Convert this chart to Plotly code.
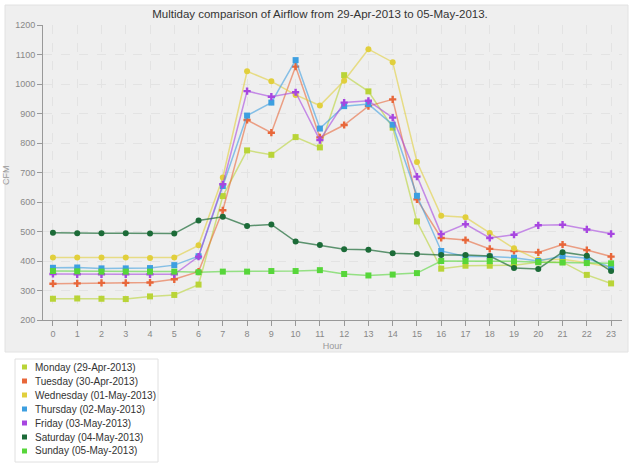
import plotly.graph_objects as go

hours = list(range(24))

monday = [272, 273, 272, 271, 280, 285, 320, 620, 775, 760, 820, 785, 1030, 975, 852, 534, 374, 384, 384, 386, 396, 396, 353, 324]
tuesday = [323, 324, 326, 326, 327, 338, 364, 572, 878, 835, 1059, 819, 861, 925, 948, 609, 478, 471, 441, 434, 429, 456, 437, 415]
wednesday = [412, 412, 412, 412, 410, 412, 453, 683, 1043, 1009, 963, 927, 1011, 1118, 1074, 736, 553, 548, 495, 443, 404, 406, 394, 378]
thursday = [377, 378, 375, 375, 376, 386, 416, 654, 893, 937, 1081, 849, 925, 932, 862, 621, 434, 415, 415, 411, 400, 417, 409, 378]
friday = [356, 355, 355, 355, 355, 355, 415, 660, 976, 957, 972, 810, 937, 943, 886, 686, 491, 525, 478, 489, 521, 523, 507, 492]
saturday = [496, 494, 494, 494, 493, 493, 537, 550, 519, 524, 466, 454, 440, 438, 426, 424, 420, 420, 417, 376, 373, 430, 418, 366]
sunday = [366, 365, 364, 364, 364, 364, 362, 364, 364, 366, 366, 369, 356, 351, 354, 359, 400, 400, 400, 399, 396, 395, 393, 392]

names = ["Monday (29-Apr-2013)", "Tuesday (30-Apr-2013)", "Wednesday (01-May-2013)",
         "Thursday (02-May-2013)", "Friday (03-May-2013)", "Saturday (04-May-2013)",
         "Sunday (05-May-2013)"]
series = [monday, tuesday, wednesday, thursday, friday, saturday, sunday]
colors = ["#b9d437", "#e8673a", "#e1cf3c", "#3d9fe0", "#a746e0", "#1c6b38", "#57d63a"]
line_colors = ["rgba(185,212,55,0.6)", "rgba(232,103,58,0.6)", "rgba(225,207,60,0.6)",
               "rgba(61,159,224,0.6)", "rgba(167,70,224,0.6)", "rgba(28,107,56,0.7)",
               "rgba(87,214,58,0.6)"]
symbols = ["square", "cross", "circle", "square", "cross", "circle", "square"]
sizes = [6, 6, 6, 6, 6, 6, 6]

fig = go.Figure()
for name, ys, c, lc, sym, sz in zip(names, series, colors, line_colors, symbols, sizes):
    fig.add_trace(go.Scatter(x=hours, y=ys, mode="lines+markers", name=name,
                             line=dict(color=lc, width=1.5),
                             marker=dict(color=c, symbol=sym, size=sz),
                             showlegend=False))

L, T, W, H = 43, 25, 579, 295
def px(x):
    return (x - L) / W
def py(y):
    return (T + H - y) / H

shapes = [dict(type="rect", xref="paper", yref="paper", layer="below",
               x0=px(5), x1=px(628), y0=py(352), y1=py(5),
               fillcolor="#efefef", line=dict(color="#e2e2e2", width=1)),
          dict(type="rect", xref="paper", yref="paper", layer="below",
               x0=px(15), x1=px(158), y0=py(462), y1=py(359),
               fillcolor="white", line=dict(color="#e0e0e0", width=1))]
annotations = [dict(text="CFM", xref="paper", yref="paper", x=px(6), y=py(175),
                    textangle=-90, showarrow=False, xanchor="center", yanchor="middle",
                    font=dict(size=9, color="#999999"))]
for i, (name, c) in enumerate(zip(names, colors)):
    yc = 367 + 14 * i
    shapes.append(dict(type="rect", xref="paper", yref="paper",
                       x0=px(22), x1=px(27), y0=py(yc + 2.5), y1=py(yc - 2.5),
                       fillcolor=c, line=dict(width=0)))
    annotations.append(dict(text=name, xref="paper", yref="paper", x=px(33), y=py(yc),
                            xanchor="left", yanchor="middle", showarrow=False,
                            font=dict(size=10, color="#333333")))

fig.update_layout(
    width=631, height=463,
    margin=dict(l=L, r=631 - L - W, t=T, b=463 - T - H, autoexpand=False),
    paper_bgcolor="white",
    plot_bgcolor="#f9f9f9",
    showlegend=False,
    font=dict(family="Liberation Sans", size=9, color="#888888"),
    title=dict(text="Multiday comparison of Airflow from 29-Apr-2013 to 05-May-2013.",
               xref="container", x=320 / 631, xanchor="center", y=1 - 14 / 463, yanchor="middle",
               font=dict(size=11.5, color="#333333")),
    xaxis=dict(range=[-0.41, 23.45], tickmode="array", tickvals=hours,
               ticktext=[str(h) for h in hours],
               showgrid=True, gridcolor="#e3e3e3", griddash="dash", gridwidth=1,
               showline=True, linecolor="#999999", linewidth=1,
               ticks="outside", ticklen=5, tickcolor="#999999",
               zeroline=False,
               title=dict(text="Hour", font=dict(size=9, color="#999999"), standoff=4)),
    yaxis=dict(range=[200, 1200], tickvals=list(range(200, 1201, 100)),
               showgrid=True, gridcolor="#e3e3e3", griddash="dash", gridwidth=1,
               showline=True, linecolor="#999999", linewidth=1,
               ticks="outside", ticklen=5, tickcolor="#999999",
               zeroline=False),
    shapes=shapes,
    annotations=annotations,
)

fig.write_html("out.html")
